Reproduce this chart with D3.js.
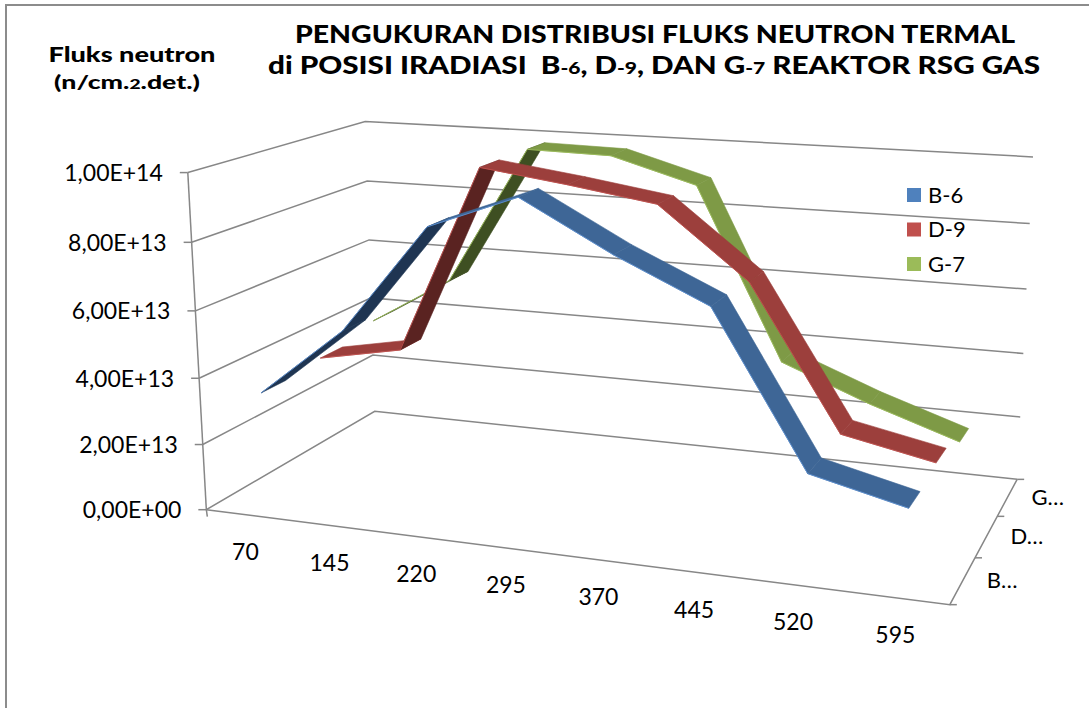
<!DOCTYPE html>
<html><head><meta charset="utf-8">
<script src="https://cdn.jsdelivr.net/npm/d3@7"></script>
<style>body{margin:0;background:#fff} svg{display:block}</style>
</head><body>
<svg id="c" width="1089" height="708"></svg>
<script>
// ---- data ----
const categories = ["70","145","220","295","370","445","520","595"];
const seriesNames = ["B-6","D-9","G-7"];
const valuesB6 = [3.4e13, 5.5e13, 8.7e13, 9.7e13, 8.3e13, 7.1e13, 2.75e13, 2.1e13];
const valuesD9 = [3.55e13, 4.05e13, 9.8e13, 9.45e13, 9.05e13, 7.0e13, 2.8e13, 2.25e13];
const valuesG7 = [3.9e13, 5.45e13, 9.8e13, 9.75e13, 9.0e13, 3.75e13, 2.7e13, 1.8e13];
const yTickValues = [0, 2e13, 4e13, 6e13, 8e13, 1e14];
const yTickLabels = ["0,00E+00","2,00E+13","4,00E+13","6,00E+13","8,00E+13","1,00E+14"];
const depthLabels = ["B…","D…","G…"];

const seriesValues = {"B-6": valuesB6, "D-9": valuesD9, "G-7": valuesG7};
const colors = {
  "B-6": {legend:"#4F81BD", top:"#3E6696", under:"#1F3552", edge:"#5B8ED0"},
  "D-9": {legend:"#C0504D", top:"#9C3F3C", under:"#5A2321", edge:"#C0504D"},
  "G-7": {legend:"#9BBB59", top:"#7E9A46", under:"#3E4F22", edge:"#9BBB59"}
};

// ---- projection (camera fitted to the plot box corners) ----
const boxCorners = [
  [[0,0,0],[206,509]], [[0,1,0],[188,173]], [[0,0,1],[375,412]], [[0,1,1],[365,121]],
  [[1,0,1],[1017,479]], [[1,1,1],[1033,157]], [[1,0,0],[950,605]]
];
function lsSolve(A, b){
  const n = A[0].length;
  const M = Array.from({length:n}, ()=>new Array(n+1).fill(0));
  A.forEach((row, r)=>{ for(let i=0;i<n;i++){ for(let j=0;j<n;j++) M[i][j]+=row[i]*row[j]; M[i][n]+=row[i]*b[r]; } });
  for(let c=0;c<n;c++){
    let p=c; for(let r=c+1;r<n;r++) if(Math.abs(M[r][c])>Math.abs(M[p][c])) p=r;
    [M[c],M[p]]=[M[p],M[c]];
    for(let r=0;r<n;r++){ if(r===c) continue; const f=M[r][c]/M[c][c]; for(let k=c;k<=n;k++) M[r][k]-=f*M[c][k]; }
  }
  return M.map((row,i)=>row[n]/row[i]);
}
const Arows=[], brow=[];
boxCorners.forEach(([[X,Y,Z],[u,v]])=>{
  Arows.push([X,Y,Z,1,0,0,0,0,-u*X,-u*Y,-u*Z]); brow.push(u);
  Arows.push([0,0,0,0,X,Y,Z,1,-v*X,-v*Y,-v*Z]); brow.push(v);
});
const p = lsSolve(Arows, brow);
function proj([X,Y,Z]){
  const w = p[8]*X+p[9]*Y+p[10]*Z+1;
  return [(p[0]*X+p[1]*Y+p[2]*Z+p[3])/w, (p[4]*X+p[5]*Y+p[6]*Z+p[7])/w];
}

// ---- scales ----
const x = d3.scaleBand().domain(categories).range([0,1]);
const xc = c => x(c) + x.bandwidth()/2;
const y = d3.scaleLinear().domain([0,1e14]).range([0,1]);
const z = d3.scaleBand().domain(seriesNames).range([0,1]);
const zc = s => z(s) + z.bandwidth()/2;
const ribbonDepth = z.bandwidth()*0.4;

const svg = d3.select("#c");
const line = d3.line();
const gridColor = "#878787";

// outer border
svg.append("rect").attr("x",6).attr("y",5).attr("width",1200).attr("height",800)
  .attr("fill","none").attr("stroke","#8c8c8c").attr("stroke-width",2);

// ---- gridlines / walls ----
const g = svg.append("g").attr("stroke",gridColor).attr("stroke-width",1.5).attr("fill","none");
yTickValues.forEach(t=>{
  const yy = y(t);
  g.append("path").attr("d", line([proj([0,yy,0]), proj([0,yy,1]), proj([1,yy,1])]));
});
g.append("path").attr("d", line([proj([0,0,0]), proj([0,y(1e14),0])]));
g.append("path").attr("d", line([proj([0,0,0]), proj([1,0,0]), proj([1,0,1])]));
yTickValues.forEach(t=>{
  const [u,v] = proj([0,y(t),0]);
  g.append("path").attr("d", line([[u-8,v],[u,v]]));
});
{ const [u,v] = proj([0,0,0]); g.append("path").attr("d", line([[u,v],[u+1,v+7]])); }
[0,1/3,2/3,1].forEach(zz=>{
  const [u,v] = proj([1,0,zz]);
  g.append("path").attr("d", line([[u,v],[u+7,v]]));
});

// ---- ribbons ----
const floorQuad = [proj([0,0,0]),proj([1,0,0]),proj([1,0,1]),proj([0,0,1])];
const s0 = Math.sign(d3.polygonArea(floorQuad));
const rg = svg.append("g");
["G-7","D-9","B-6"].forEach(s=>{
  const vals = seriesValues[s];
  const z0 = zc(s) - ribbonDepth/2, z1 = zc(s) + ribbonDepth/2;
  for(let i=0;i<categories.length-1;i++){
    const X0 = xc(categories[i]), X1 = xc(categories[i+1]);
    const Y0 = y(vals[i]), Y1 = y(vals[i+1]);
    const quad = [proj([X0,Y0,z0]), proj([X1,Y1,z0]), proj([X1,Y1,z1]), proj([X0,Y0,z1])];
    const top = Math.sign(d3.polygonArea(quad)) === s0;
    const col = top ? colors[s].top : colors[s].under;
    rg.append("path").attr("d", line(quad)+"Z").attr("fill", col)
      .attr("stroke", col).attr("stroke-width",0.6).attr("stroke-linejoin","round");
    rg.append("path").attr("d", line([quad[0],quad[1]])).attr("stroke", colors[s].edge)
      .attr("stroke-width",0.9).attr("fill","none");
  }
});

// ---- labels ----
const labelFont = "Lato, 'Open Sans', sans-serif";
yTickValues.forEach((t,i)=>{
  const [u,v] = proj([0,y(t),0]);
  svg.append("text").attr("x",u-25).attr("y",v).attr("dy","0.36em").attr("text-anchor","end")
    .attr("font-family",labelFont).attr("font-size",23).attr("fill","#000").text(yTickLabels[i]);
});
categories.forEach(c=>{
  const [u,v] = proj([xc(c),0,0]);
  svg.append("text").attr("x",u-2).attr("y",v+37).attr("dy","0.36em").attr("text-anchor","middle")
    .attr("font-family",labelFont).attr("font-size",23).attr("fill","#000").text(c);
});
seriesNames.forEach((s,i)=>{
  const [u,v] = proj([1,0,zc(s)]);
  svg.append("text").attr("x",u+24).attr("y",v).attr("dy","0.36em")
    .attr("font-family",labelFont).attr("font-size",22).attr("fill","#000").text(depthLabels[i]);
});

// legend
seriesNames.forEach((s,i)=>{
  const ly = 195 + i*34.5;
  svg.append("rect").attr("x",907).attr("y",ly-7).attr("width",14).attr("height",14).attr("fill",colors[s].legend);
  svg.append("text").attr("x",928).attr("y",ly).attr("dy","0.36em").attr("font-family",labelFont)
    .attr("font-size",22).attr("fill","#000").text(s);
});

// titles
const titleFont = "Lato, 'DejaVu Sans', sans-serif";
svg.append("text").attr("x",655).attr("y",43).attr("text-anchor","middle").attr("font-family",titleFont)
  .attr("font-weight",900).attr("font-size",24).attr("textLength",720).attr("lengthAdjust","spacingAndGlyphs")
  .text("PENGUKURAN DISTRIBUSI FLUKS NEUTRON TERMAL");
const t2 = svg.append("text").attr("x",654).attr("y",74).attr("text-anchor","middle").attr("font-family",titleFont)
  .attr("font-weight",900).attr("font-size",24).attr("textLength",772).attr("lengthAdjust","spacingAndGlyphs");
[["di POSISI IRADIASI\u00a0\u00a0B",24],["-6",17],[", D",24],["-9",17],[", DAN G",24],["-7",17],[" REAKTOR RSG GAS",24]]
  .forEach(([txt,fs])=>t2.append("tspan").attr("font-size",fs).text(txt));

svg.append("text").attr("x",132).attr("y",62).attr("text-anchor","middle").attr("font-family",titleFont)
  .attr("font-weight",900).attr("font-size",21).attr("textLength",167).attr("lengthAdjust","spacingAndGlyphs")
  .text("Fluks neutron");
const a2 = svg.append("text").attr("x",127).attr("y",89).attr("text-anchor","middle").attr("font-family",titleFont)
  .attr("font-weight",900).attr("font-size",18).attr("textLength",146).attr("lengthAdjust","spacingAndGlyphs");
[["(n/cm.",18],["2",13],[".det.)",18]].forEach(([txt,fs])=>a2.append("tspan").attr("font-size",fs).text(txt));
</script>
</body></html>
